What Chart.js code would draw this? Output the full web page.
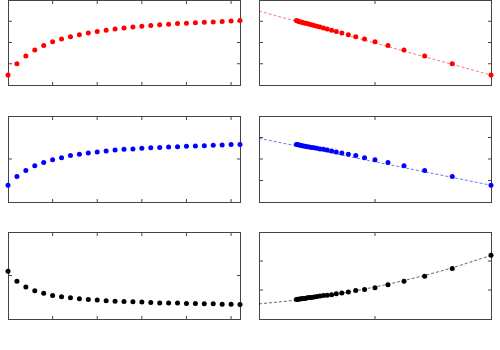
<!DOCTYPE html>
<html>
<head>
<meta charset="utf-8">
<script src="https://cdn.jsdelivr.net/npm/chart.js@4.4.1/dist/chart.umd.min.js"></script>
<style>
  html, body { margin: 0; padding: 0; background: #fff; overflow: hidden; }
  body { width: 500px; height: 350px; position: relative; }
  canvas { position: absolute; }
</style>
</head>
<body>
<canvas id="p1"></canvas>
<canvas id="p2"></canvas>
<canvas id="p3"></canvas>
<canvas id="p4"></canvas>
<canvas id="p5"></canvas>
<canvas id="p6"></canvas>
<script>
// step index (left column) and its reciprocal position (right column)
const steps = [0, 1, 2, 3, 4, 5, 6, 7, 8, 9, 10, 11, 12, 13, 14, 15, 16, 17, 18, 19, 20, 21, 22, 23, 24, 25, 26];
const invSteps = [1, 0.833, 0.714, 0.625, 0.556, 0.5, 0.455, 0.417, 0.385, 0.357, 0.333, 0.313, 0.294,
  0.278, 0.263, 0.25, 0.238, 0.227, 0.217, 0.208, 0.2, 0.192, 0.185, 0.179, 0.172, 0.167, 0.161];

const redVals = [0.47, 1.0, 1.37, 1.65, 1.86, 2.03, 2.16, 2.27, 2.37, 2.45, 2.52, 2.58, 2.64, 2.68, 2.73,
  2.76, 2.8, 2.83, 2.86, 2.89, 2.91, 2.93, 2.95, 2.97, 2.99, 3.01, 3.03];
const blueVals = [0.78, 1.19, 1.47, 1.69, 1.84, 1.97, 2.06, 2.16, 2.22, 2.28, 2.32, 2.37, 2.42, 2.45,
  2.47, 2.5, 2.52, 2.54, 2.56, 2.57, 2.59, 2.6, 2.62, 2.64, 2.65, 2.67, 2.68];
const blackVals = [2.2, 1.74, 1.47, 1.3, 1.18, 1.08, 1.02, 0.98, 0.93, 0.9, 0.87, 0.84, 0.82, 0.81,
  0.79, 0.78, 0.76, 0.74, 0.74, 0.73, 0.71, 0.71, 0.7, 0.7, 0.68, 0.68, 0.67];

// dashed fits on the right column
const redFitX = [0, 1];
const redFitY = [3.48, 0.47];
const blueFitX = [0, 1];
const blueFitY = [2.96, 0.78];
const blackFitX = [0, 0.2, 0.4, 0.6, 0.8, 1];
const blackFitY = [0.52, 0.69, 0.95, 1.28, 1.69, 2.19];

// tick positions (no labels are printed)
const leftXTicks = [5, 10, 15, 20, 25];
const rightXTicks = [0.5];
const redLeftYTicks = [1, 2, 3];
const redRightYTicks = [1, 2, 3];
const blueLeftYTicks = [2];
const blueRightYTicks = [1, 2, 3];
const blackLeftYTicks = [2];
const blackRightYTicks = [1, 2];

const PAD = 6;
const TICK = 4;

const framePlugin = {
  id: 'frame',
  beforeDatasetsDraw(chart, args, opts) {
    const { ctx, chartArea: a, scales } = chart;
    ctx.save();
    ctx.strokeStyle = '#444';
    ctx.lineWidth = 1;
    ctx.strokeRect(a.left + 0.5, a.top + 0.5, a.right - a.left, a.bottom - a.top);
    ctx.beginPath();
    opts.xTicks.forEach(v => {
      const x = scales.x.getPixelForValue(v);
      ctx.moveTo(x, a.top);
      ctx.lineTo(x, a.top + TICK);
      ctx.moveTo(x, a.bottom + 1);
      ctx.lineTo(x, a.bottom + 1 - TICK);
    });
    opts.yTicks.forEach(v => {
      const y = scales.y.getPixelForValue(v);
      ctx.moveTo(a.left, y);
      ctx.lineTo(a.left + TICK, y);
      ctx.moveTo(a.right + 1, y);
      ctx.lineTo(a.right + 1 - TICK, y);
    });
    ctx.stroke();
    ctx.restore();
  },
};

function makePanel(id, box, cfg) {
  const el = document.getElementById(id);
  el.width = box.w + PAD * 2;
  el.height = box.h + PAD * 2;
  el.style.left = (box.left - PAD) + 'px';
  el.style.top = (box.top - PAD) + 'px';

  const datasets = [{
    data: cfg.xs.map((x, i) => ({ x, y: cfg.ys[i] })),
    backgroundColor: cfg.color,
    pointRadius: 2.5,
    pointBorderWidth: 0,
    pointHoverRadius: 2.5,
    clip: false,
  }];
  if (cfg.fitX) {
    datasets.push({
      data: cfg.fitX.map((x, i) => ({ x, y: cfg.fitY[i] })),
      showLine: true,
      borderColor: cfg.fitColor,
      borderWidth: 1,
      borderDash: [3, 2],
      pointRadius: 0,
      cubicInterpolationMode: 'monotone',
      clip: false,
    });
  }

  return new Chart(el, {
    type: 'scatter',
    data: { datasets },
    options: {
      responsive: false,
      animation: false,
      events: [],
      layout: { padding: PAD },
      plugins: {
        legend: { display: false },
        tooltip: { enabled: false },
        frame: { xTicks: cfg.xTicks, yTicks: cfg.yTicks },
      },
      scales: {
        x: { type: 'linear', display: false, min: cfg.xMin, max: cfg.xMax },
        y: { type: 'linear', display: false, min: 0, max: cfg.yMax },
      },
    },
    plugins: [framePlugin],
  });
}

const colL = 8, colR = 259, W = 232;
const rows = [{ top: 0, h: 85 }, { top: 116, h: 86 }, { top: 232, h: 87 }];

makePanel('p1', { left: colL, top: rows[0].top, w: W, h: rows[0].h }, {
  xs: steps, ys: redVals, color: '#ff0000', xMin: 0, xMax: 26, yMax: 4,
  xTicks: leftXTicks, yTicks: redLeftYTicks,
});
makePanel('p2', { left: colR, top: rows[0].top, w: W, h: rows[0].h }, {
  xs: invSteps, ys: redVals, color: '#ff0000', xMin: 0, xMax: 1, yMax: 4,
  fitX: redFitX, fitY: redFitY, fitColor: 'rgba(255,0,0,0.55)',
  xTicks: rightXTicks, yTicks: redRightYTicks,
});
makePanel('p3', { left: colL, top: rows[1].top, w: W, h: rows[1].h }, {
  xs: steps, ys: blueVals, color: '#0000ff', xMin: 0, xMax: 26, yMax: 4,
  xTicks: leftXTicks, yTicks: blueLeftYTicks,
});
makePanel('p4', { left: colR, top: rows[1].top, w: W, h: rows[1].h }, {
  xs: invSteps, ys: blueVals, color: '#0000ff', xMin: 0, xMax: 1, yMax: 4,
  fitX: blueFitX, fitY: blueFitY, fitColor: 'rgba(0,0,255,0.55)',
  xTicks: rightXTicks, yTicks: blueRightYTicks,
});
makePanel('p5', { left: colL, top: rows[2].top, w: W, h: rows[2].h }, {
  xs: steps, ys: blackVals, color: '#000000', xMin: 0, xMax: 26, yMax: 4,
  xTicks: leftXTicks, yTicks: blackLeftYTicks,
});
makePanel('p6', { left: colR, top: rows[2].top, w: W, h: rows[2].h }, {
  xs: invSteps, ys: blackVals, color: '#000000', xMin: 0, xMax: 1, yMax: 3,
  fitX: blackFitX, fitY: blackFitY, fitColor: 'rgba(0,0,0,0.6)',
  xTicks: rightXTicks, yTicks: blackRightYTicks,
});
</script>
</body>
</html>
